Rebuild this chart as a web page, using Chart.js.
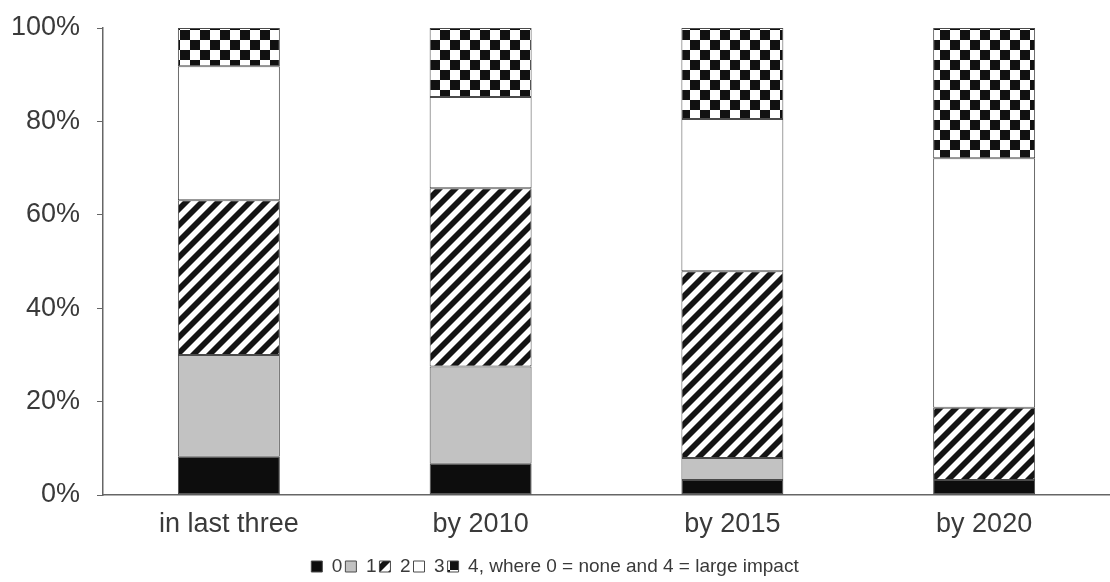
<!DOCTYPE html>
<html>
<head>
    <script src="https://cdn.jsdelivr.net/npm/chart.js"></script>
    <style>
        body { margin: 0; background: #fff; }
    </style>
</head>
<body>
    <canvas id="chart" width="1110" height="582"></canvas>
    <script>
        const categories = ['in last three', 'by 2010', 'by 2015', 'by 2020'];
        const seriesLabels = ['0', '1', '2', '3', '4, where 0 = none and 4 = large impact'];
        const score0 = [8.2, 6.7, 3.2, 3.2];
        const score1 = [21.8, 20.8, 4.7, 0];
        const score2 = [33.1, 38.2, 40.0, 15.5];
        const score3 = [28.7, 19.5, 32.6, 53.4];
        const score4 = [8.2, 14.8, 19.5, 27.9];
        const yTicks = [0, 20, 40, 60, 80, 100];

        // diagonal "/" stripes, drawn per pixel so the tile is seamless
        function stripePattern() {
            const s = 16, w = 7;
            const c = document.createElement('canvas');
            c.width = s; c.height = s;
            const g = c.getContext('2d');
            const img = g.createImageData(s, s);
            for (let y = 0; y < s; y++) {
                for (let x = 0; x < s; x++) {
                    const d = (x + y) % s;
                    let v = d < w ? 20 : 255;
                    if (d === w || d === s - 1) v = 130;
                    const i = (y * s + x) * 4;
                    img.data[i] = img.data[i + 1] = img.data[i + 2] = v;
                    img.data[i + 3] = 255;
                }
            }
            g.putImageData(img, 0, 0);
            return g.createPattern(c, 'repeat');
        }

        function checkerPattern() {
            const s = 10;
            const c = document.createElement('canvas');
            c.width = s * 2; c.height = s * 2;
            const g = c.getContext('2d');
            g.fillStyle = '#fff';
            g.fillRect(0, 0, s * 2, s * 2);
            g.fillStyle = '#111';
            g.fillRect(s, 0, s, s);
            g.fillRect(0, s, s, s);
            return g.createPattern(c, 'repeat');
        }

        const fills = ['#0d0d0d', '#c2c2c2', stripePattern(), '#ffffff', checkerPattern()];
        const values = [score0, score1, score2, score3, score4];

        const textColor = '#3a3a3a';
        const fontFamily = '"Liberation Sans", Arial, sans-serif';

        new Chart(document.getElementById('chart'), {
            type: 'bar',
            data: {
                labels: categories,
                datasets: values.map((v, i) => ({
                    label: seriesLabels[i],
                    data: v,
                    backgroundColor: fills[i],
                    borderColor: '#4a4a4a',
                    borderWidth: 1,
                    borderSkipped: false,
                    barPercentage: 0.405,
                    categoryPercentage: 1
                }))
            },
            options: {
                responsive: false,
                animation: false,
                layout: { padding: { top: 28, right: 0, left: 0, bottom: -4 } },
                plugins: {
                    tooltip: { enabled: false },
                    legend: {
                        position: 'bottom',
                        labels: {
                            boxWidth: 11,
                            boxHeight: 11,
                            padding: 3,
                            color: textColor,
                            font: { family: fontFamily, size: 19 }
                        }
                    }
                },
                scales: {
                    x: {
                        stacked: true,
                        afterFit: scale => { scale.height = 59; },
                        border: { color: '#666', width: 1.5 },
                        grid: { display: false, drawTicks: false },
                        ticks: {
                            padding: 13,
                            color: textColor,
                            font: { family: fontFamily, size: 27 }
                        }
                    },
                    y: {
                        stacked: true,
                        min: 0,
                        max: 100,
                        afterFit: scale => {
                            scale.width = 103;
                            scale.paddingTop = 0;
                            scale.paddingBottom = 0;
                        },
                        afterBuildTicks: scale => { scale.ticks = yTicks.map(v => ({ value: v })); },
                        border: { color: '#666', width: 1.5 },
                        grid: { drawOnChartArea: false, drawTicks: true, tickLength: 6, color: '#666' },
                        ticks: {
                            padding: 17,
                            color: textColor,
                            font: { family: fontFamily, size: 27 },
                            callback: v => v + '%'
                        }
                    }
                }
            }
        });
    </script>
</body>
</html>
